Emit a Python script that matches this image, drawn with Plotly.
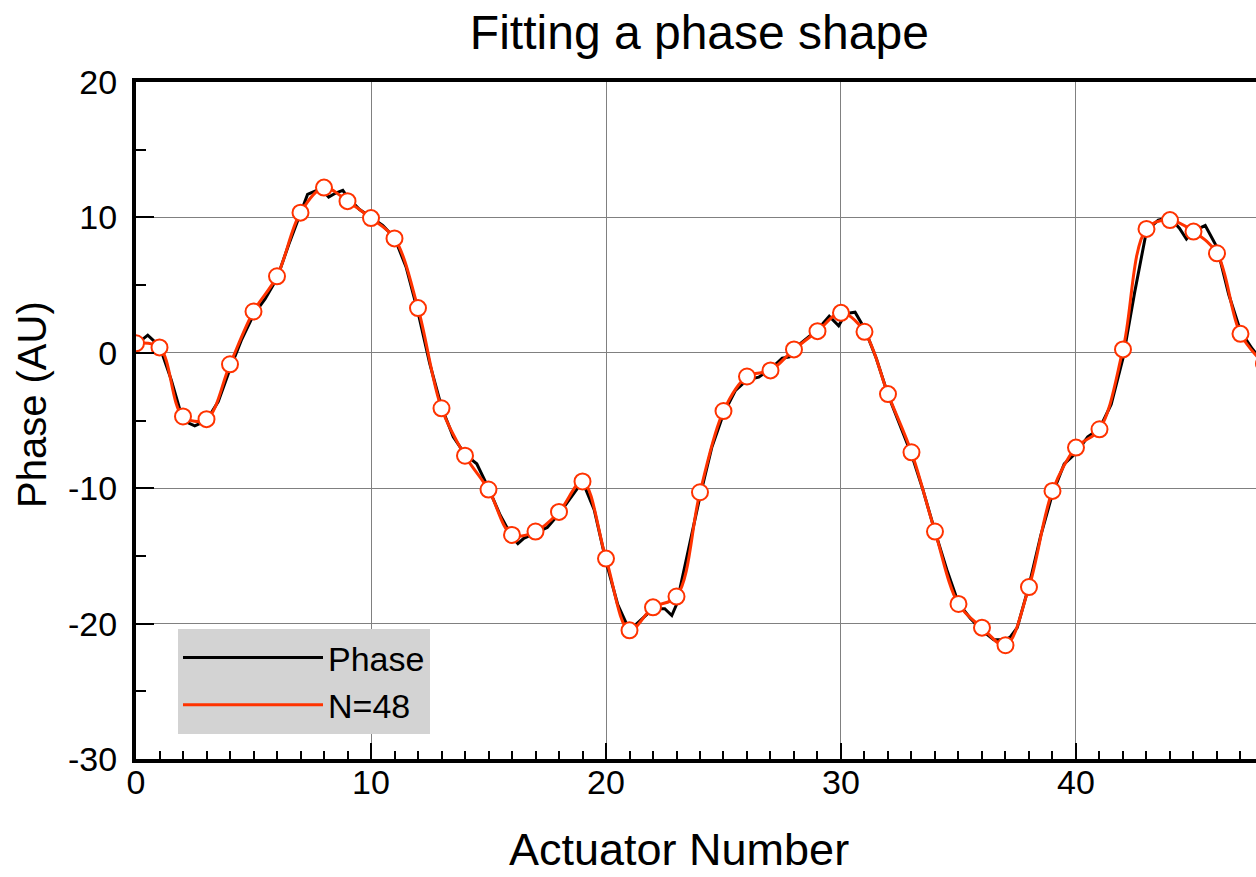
import plotly.graph_objects as go

# Fitted values at each actuator (N=48)
actuators = list(range(0, 49))
fit_phase = [0.7, 0.4, -4.7, -4.9, -0.85, 3.05, 5.65, 10.35, 12.2, 11.2,
             9.95, 8.45, 3.3, -4.1, -7.6, -10.1, -13.45, -13.2, -11.75, -9.5,
             -15.2, -20.5, -18.8, -18.0, -10.3, -4.3, -1.75, -1.3, 0.25, 1.6,
             2.95, 1.55, -3.05, -7.35, -13.2, -18.55, -20.3, -21.6, -17.3, -10.2,
             -7.0, -5.65, 0.25, 9.15, 9.8, 8.95, 7.35, 1.4, -0.8]

# Measured phase (dense)
phase_x = [0.0, 0.5, 1.0, 1.5, 2.0, 2.5, 3.0, 3.5, 4.0, 4.5, 5.0, 5.5, 6.0, 6.5, 7.0,
           7.3, 7.7, 8.0, 8.2, 8.5, 8.8, 9.0, 9.5, 10.0, 10.5, 11.0, 11.5, 12.0, 12.5,
           13.0, 13.5, 14.0, 14.3, 14.5, 15.0, 15.5, 16.0, 16.25, 16.5, 17.0, 17.5,
           18.0, 18.5, 19.0, 19.5, 20.0, 20.5, 21.0, 21.5, 22.0, 22.5, 22.8, 23.0,
           23.5, 24.0, 24.5, 25.0, 25.5, 26.0, 26.5, 27.0, 27.5, 27.8, 28.0, 28.5,
           29.0, 29.5, 29.9, 30.2, 30.6, 31.0, 31.5, 32.0, 32.5, 33.0, 33.5, 34.0,
           34.5, 35.0, 35.5, 36.0, 36.5, 37.0, 37.2, 37.5, 38.0, 38.5, 39.0, 39.5,
           40.0, 40.5, 41.0, 41.5, 42.0, 42.5, 43.0, 43.5, 44.0, 44.4, 44.7, 45.0,
           45.5, 46.0, 46.5, 47.0, 47.5, 48.0]
phase_y = [0.6, 1.3, 0.5, -2.0, -5.0, -5.4, -5.0, -3.6, -1.2, 1.0, 2.8, 4.0, 5.5, 8.0, 10.3,
           11.7, 12.0, 11.9, 11.5, 11.8, 12.0, 11.5, 10.6, 10.0, 9.4, 8.5, 6.3, 3.0, -0.8,
           -4.0, -6.2, -7.5, -7.9, -8.2, -10.0, -12.0, -13.6, -14.1, -13.7, -13.3, -12.9,
           -11.9, -10.7, -9.5, -11.6, -15.4, -18.6, -20.5, -19.7, -18.9, -18.9, -19.4, -18.6,
           -14.5, -10.6, -7.0, -4.5, -2.8, -2.0, -1.8, -1.2, -0.4, -0.3, 0.3, 1.0,
           1.7, 2.7, 2.0, 2.9, 3.0, 1.8, -0.4, -3.1, -5.3, -7.5, -10.2, -13.2,
           -16.0, -18.5, -19.6, -20.5, -21.2, -21.2, -21.0, -20.3, -17.2, -13.5, -10.4, -8.2,
           -7.4, -6.2, -5.6, -3.8, -0.4, 4.5, 9.0, 9.8, 10.0, 9.2, 8.4, 9.0,
           9.4, 7.8, 4.3, 1.6, 0.3, -0.8]

x_ticks = [0, 10, 20, 30, 40]
y_ticks = [-30, -20, -10, 0, 10, 20]

FONT = "Liberation Sans, Arial, Helvetica, sans-serif"
RED = "#ff3300"

fig = go.Figure()
fig.add_trace(go.Scatter(x=phase_x, y=phase_y, mode="lines", name="Phase",
                         line=dict(color="black", width=3)))
fig.add_trace(go.Scatter(x=actuators, y=fit_phase, mode="lines", name="N=48",
                         line=dict(color=RED, width=3, shape="spline", smoothing=1.0)))
fig.add_trace(go.Scatter(x=actuators, y=fit_phase, mode="markers", showlegend=False,
                         marker=dict(size=16, color="white",
                                     line=dict(color=RED, width=2))))

fig.update_layout(
    width=1256, height=877,
    margin=dict(l=136, r=0, t=82, b=118),
    paper_bgcolor="white", plot_bgcolor="white",
    font=dict(family=FONT, color="black"),
    title=dict(text="Fitting a phase shape", x=0.503, xref="paper", xanchor="center",
               y=1 - 32 / 877, yref="container", yanchor="middle",
               font=dict(size=48, family=FONT)),
    legend=dict(x=0.0375, y=0.037, xanchor="left", yanchor="bottom",
                bgcolor="#d3d3d3", borderwidth=0, itemwidth=140,
                font=dict(size=34, family=FONT), tracegroupgap=0),
    showlegend=True,
    annotations=[
        dict(text="Actuator Number", xref="paper", yref="paper",
             x=(679 - 136) / 1120, y=-(849 - 759) / 677, xanchor="center", yanchor="middle",
             showarrow=False, font=dict(size=45, family=FONT)),
        dict(text="Phase (AU)", xref="paper", yref="paper", textangle=-90,
             x=0, xshift=-104, y=(759 - 405) / 677, xanchor="center", yanchor="middle",
             showarrow=False, font=dict(size=40, family=FONT)),
    ],
)

fig.update_xaxes(
    range=[0, 47.66], tickvals=x_ticks, ticktext=[str(v) for v in x_ticks],
    showline=True, linewidth=4, linecolor="black", mirror=True,
    ticks="inside", ticklen=16, tickwidth=2, tickcolor="black",
    showgrid=True, gridcolor="#808080", gridwidth=1, zeroline=False,
    minor=dict(dtick=1, ticks="inside", ticklen=8, tickwidth=2, tickcolor="black", showgrid=False),
    tickfont=dict(size=34, family=FONT), ticklabelstandoff=-10,
)
fig.update_yaxes(
    range=[-30, 20], tickvals=y_ticks, ticktext=[str(v) for v in y_ticks],
    showline=True, linewidth=4, linecolor="black", mirror=False,
    ticks="inside", ticklen=18, tickwidth=2, tickcolor="black",
    showgrid=True, gridcolor="#808080", gridwidth=1, zeroline=False,
    minor=dict(dtick=5, ticks="inside", ticklen=10, tickwidth=2, tickcolor="black", showgrid=False),
    tickfont=dict(size=34, family=FONT), ticklabelstandoff=8,
)

fig.write_html("out.html", config={"displayModeBar": False},
               post_script="document.body.style.margin='0';")
